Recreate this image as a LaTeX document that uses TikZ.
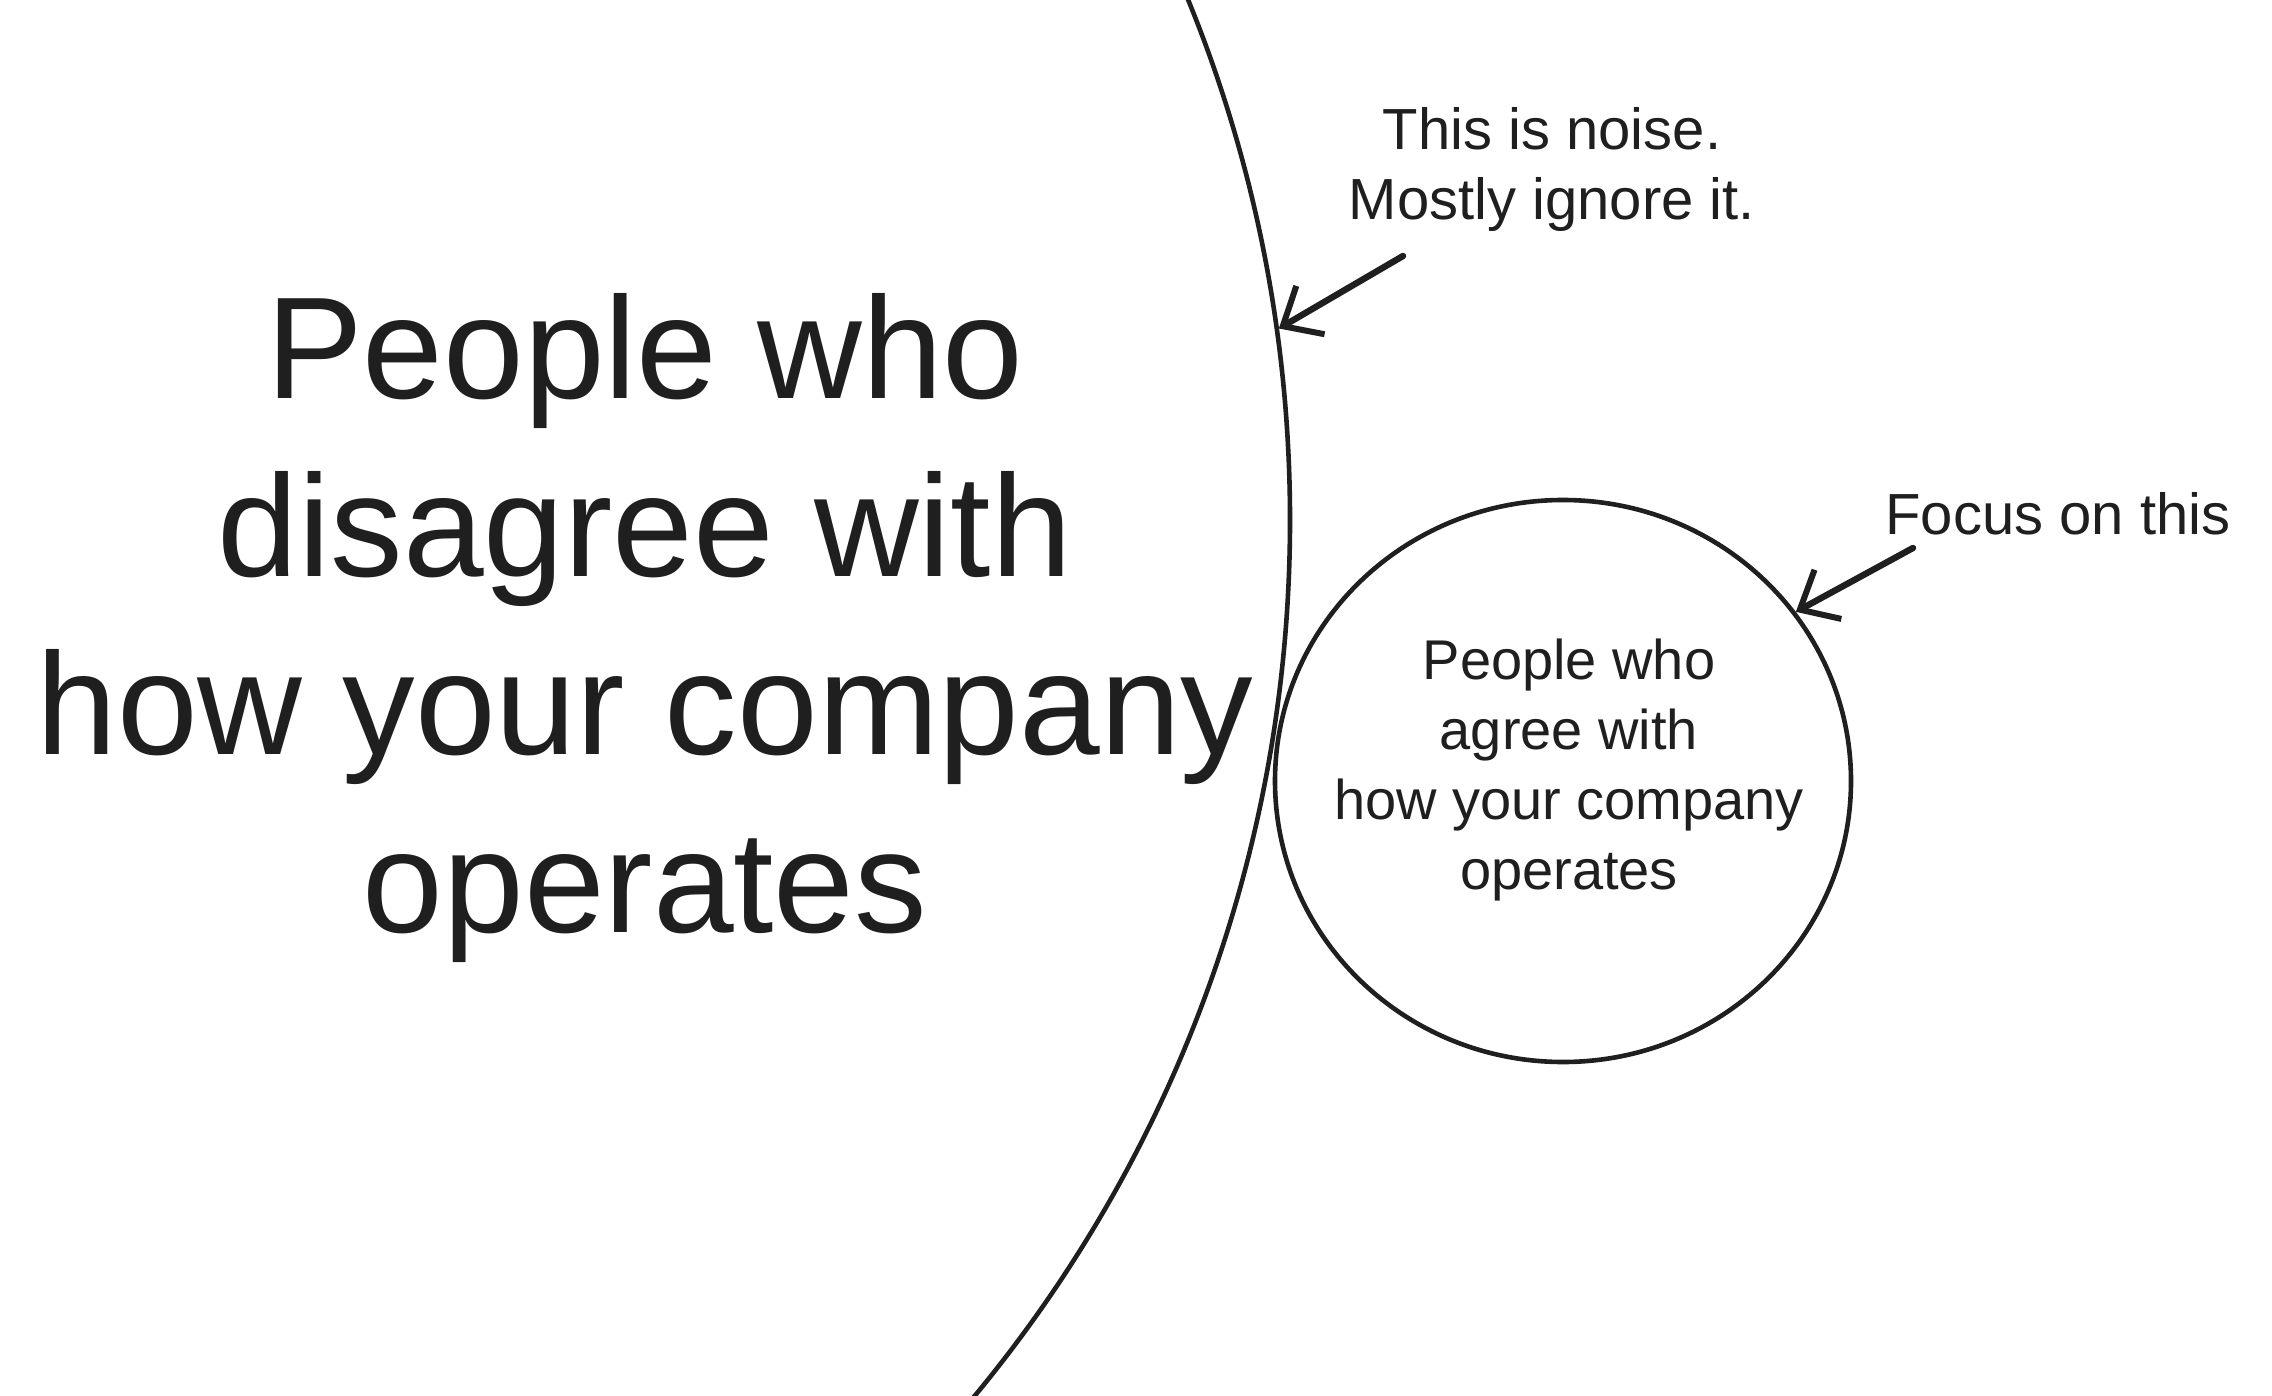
\documentclass[tikz,border=0pt]{standalone}
\usepackage{fontspec}
\setmainfont{Liberation Sans}
\usetikzlibrary{shapes.geometric,arrows.meta}
\tikzset{
  ring/.style={draw=black!88, line width=2.3pt, inner sep=0pt},
  pointer/.style={draw=black!88, line width=3.2pt, line cap=round,
    -{Straight Barb[length=16pt,width=28pt,line width=3pt]}},
  bigtext/.style={align=center, text=black!88, font=\fontsize{72.5}{89}\selectfont},
  smalltext/.style={align=center, text=black!88, font=\fontsize{28}{35}\selectfont},
  notetext/.style={align=center, text=black!88, font=\fontsize{29}{35}\selectfont}
}
\begin{document}
\begin{tikzpicture}[x=0.5pt, y=-0.5pt]
  \useasboundingbox[fill=white] (0,0) rectangle (2272,1396);
  \clip (0,0) rectangle (2272,1396);
  % big circle
  \node[ring, circle, minimum size=1374pt] (disagree) at (-84,520) {};
  \node[bigtext] (disagreetext) at (645,628)
    {People who\\disagree with\\how your company\\operates};
  % small circle
  \node[ring, ellipse, minimum width=288pt, minimum height=281pt] (agree) at (1563,781) {};
  \node[smalltext] (agreetext) at (1569,770)
    {People who\\agree with\\how your company\\operates};
  % notes
  \node[notetext] (noise) at (1552,170) {This is noise.\\Mostly ignore it.};
  \node[notetext] (focus) at (2058,514) {Focus on this};
  \coordinate (noisestart) at (1403,256);
  \coordinate (focusstart) at (1913,548);
  \draw[pointer] (noisestart) -- (disagree.8.7);
  \draw[pointer] (focusstart) -- (agree.36);
\end{tikzpicture}
\end{document}
